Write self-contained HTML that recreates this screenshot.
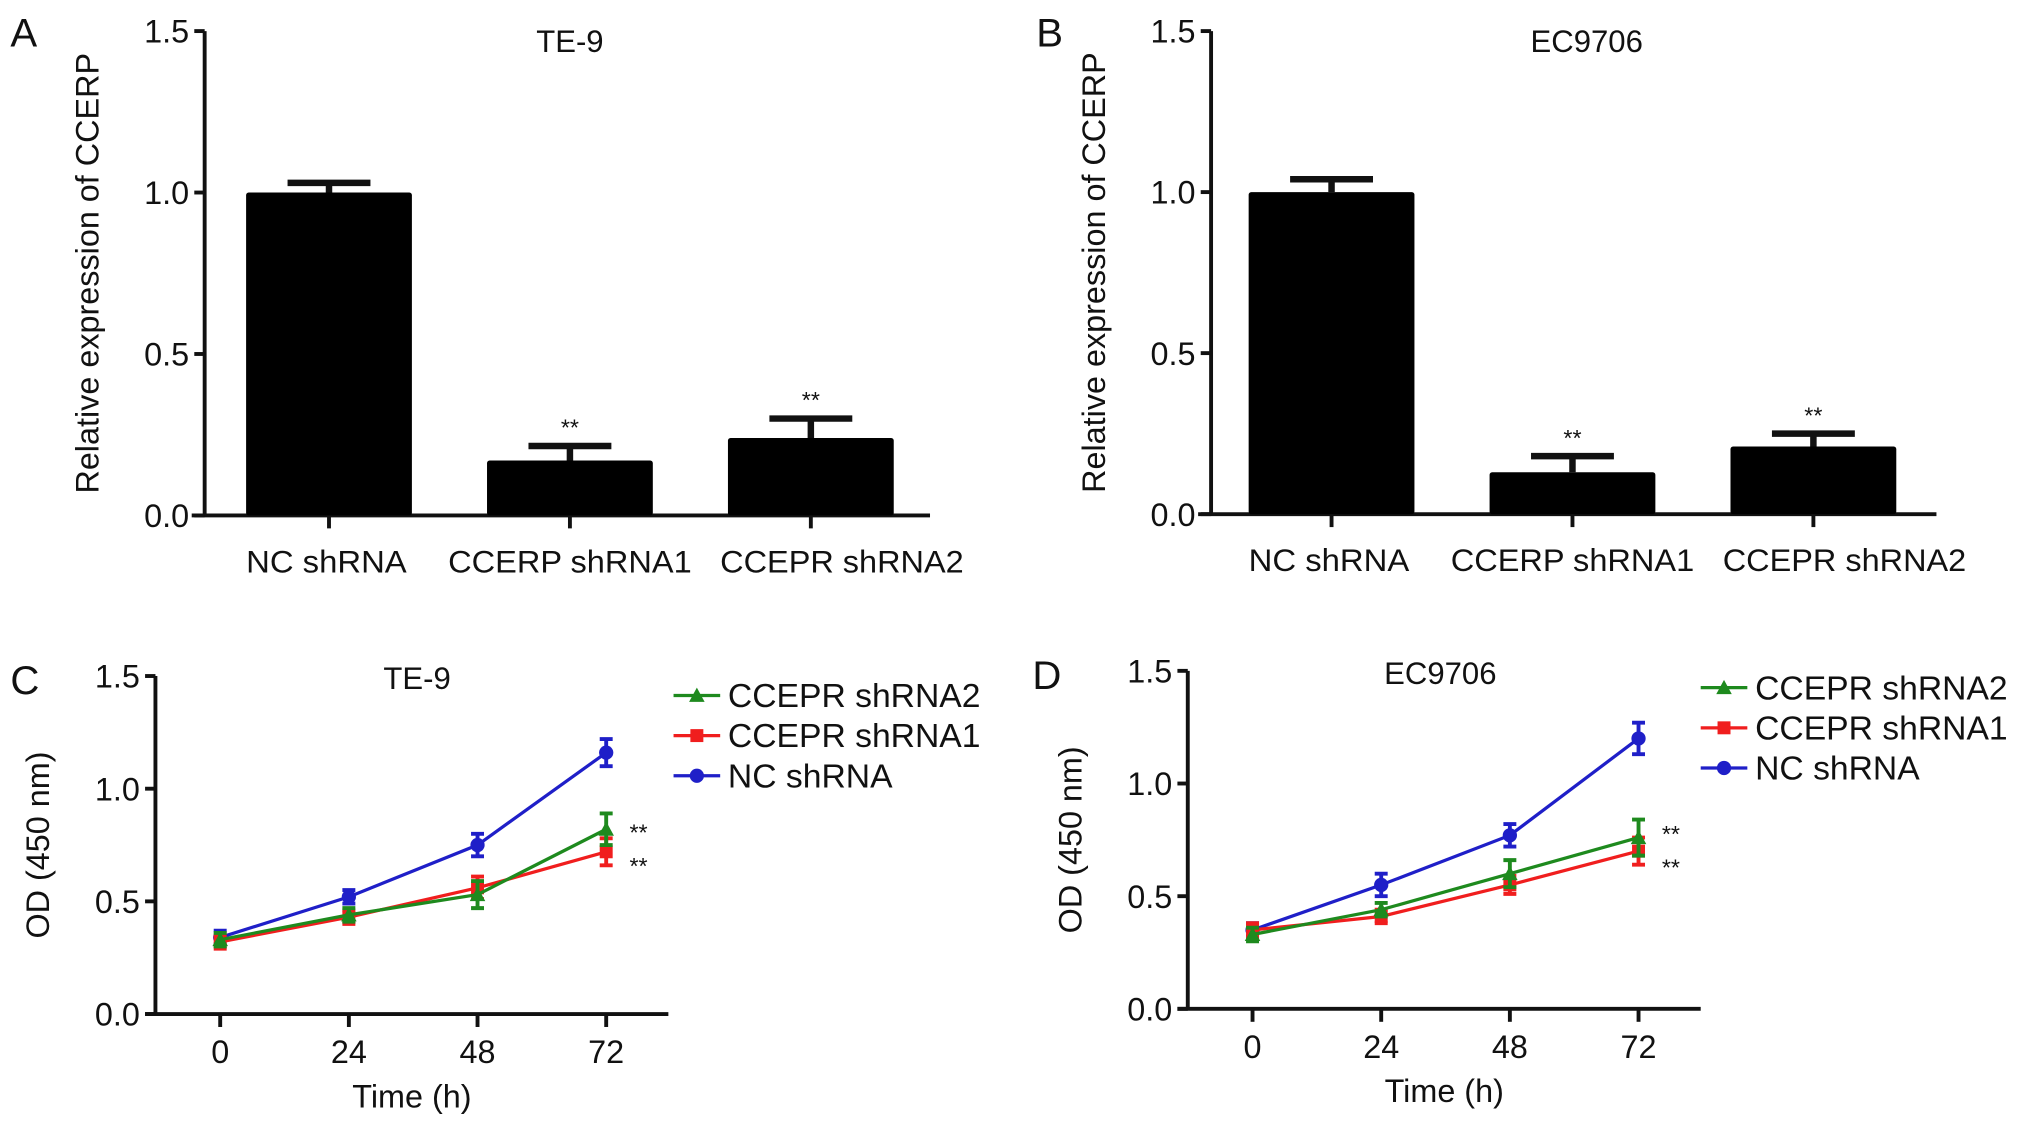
<!DOCTYPE html>
<html><head><meta charset="utf-8"><style>
html,body{margin:0;padding:0;background:#fff;}
svg{display:block;font-family:"Liberation Sans",sans-serif;}
</style></head><body>
<svg id="fig" width="2031" height="1128" viewBox="0 0 1568 871" preserveAspectRatio="none" xmlns="http://www.w3.org/2000/svg"></svg>
<script>
// Bar panel data
const barCats = ["NC shRNA", "CCERP shRNA1", "CCEPR shRNA2"];
const barA = [1.0, 0.17, 0.24];
const barAErr = [0.03, 0.045, 0.06];
const barB = [1.0, 0.13, 0.21];
const barBErr = [0.04, 0.05, 0.04];
const yTicks = [0.0, 0.5, 1.0, 1.5];
const yTickLabels = ["0.0", "0.5", "1.0", "1.5"];
// Line panel data
const times = [0, 24, 48, 72];
const timeLabels = ["0", "24", "48", "72"];
const seriesNames = ["CCEPR shRNA2", "CCEPR shRNA1", "NC shRNA"];
const cNC = [0.34, 0.52, 0.75, 1.16];
const cNCErr = [0.03, 0.03, 0.05, 0.06];
const cSh1 = [0.32, 0.43, 0.56, 0.72];
const cSh1Err = [0.03, 0.03, 0.05, 0.06];
const cSh2 = [0.33, 0.44, 0.53, 0.82];
const cSh2Err = [0.03, 0.03, 0.06, 0.07];
const dNC = [0.35, 0.55, 0.77, 1.20];
const dNCErr = [0.03, 0.05, 0.05, 0.07];
const dSh1 = [0.35, 0.41, 0.55, 0.70];
const dSh1Err = [0.03, 0.03, 0.04, 0.06];
const dSh2 = [0.33, 0.44, 0.60, 0.76];
const dSh2Err = [0.03, 0.03, 0.06, 0.08];

const svg = document.getElementById('fig');
const NS = 'http://www.w3.org/2000/svg';
function mk(tag, attrs, parent, text){
  const e = document.createElementNS(NS, tag);
  for (const k in attrs) e.setAttribute(k, attrs[k]);
  if (text !== undefined) e.textContent = text;
  (parent || svg).appendChild(e);
  return e;
}
function txt(x,y,s,size,anchor,name,parent,extra){
  const t = mk('text', Object.assign({x:x,y:y,'font-size':size,'text-anchor':anchor||'middle',fill:'#111'}, extra||{}), parent, s);
  
  
  return t;
}
const labelShift = [-2, 0, 24];

function barPanel(cfg, vals, errs){
  const g = mk('g', {});
  
  
  const y = v => cfg.y0 - (v/1.5)*(cfg.y0 - cfg.yTop);
  txt(cfg.letterX, 36, cfg.letter, 31, 'start', 'panel-label', g);
  txt(cfg.titleX, 40, cfg.title, 24, 'middle', 'chart-title', g);
  const ax = mk('path', {d:`M${cfg.ax} ${cfg.yTop} V${cfg.y0} M${cfg.ax-10} ${cfg.y0} H${cfg.xEnd}`, stroke:'#111','stroke-width':3, fill:'none'}, g);
   
  yTicks.forEach((v,i)=>{
    const tk = mk('line',{x1:cfg.ax-8,x2:cfg.ax,y1:y(v),y2:y(v),stroke:'#111','stroke-width':3},g);
     
    txt(cfg.ax-12, y(v)+9, yTickLabels[i], 25, 'end', 'y-tick-label', g);
  });
  const yl = txt(0,0,'Relative expression of CCERP',25,'middle','y-axis-title',g);
  yl.setAttribute('transform',`translate(${cfg.ax-82},${(cfg.yTop+cfg.y0)/2}) rotate(-90)`);
  vals.forEach((v,i)=>{
    const cx = cfg.x0 + i*cfg.step;
    const top = y(v), eTop = y(v+errs[i]);
    const eb = mk('path',{d:`M${cx} ${top} V${eTop} M${cx-32} ${eTop} H${cx+32}`,stroke:'#111','stroke-width':5,fill:'none'},g);
     
    const r = mk('rect',{x:cx-64,y:top,width:128,height:cfg.y0-top,fill:'#000',rx:2},g);
     
    const tk = mk('line',{x1:cx,x2:cx,y1:cfg.y0,y2:cfg.y0+10,stroke:'#111','stroke-width':3},g);
     
    txt(cx+labelShift[i], cfg.y0+44, barCats[i], 24, 'middle', 'x-tick-label', g, {textLength: i===0?124:188, lengthAdjust:'spacingAndGlyphs'});
    if (i>0) txt(cx, eTop-8, '**', 18, 'middle', 'significance-marker', g);
  });
}
barPanel({name:'panel-a',letter:'A',letterX:8,title:'TE-9',titleX:440,ax:158,yTop:24,y0:398,xEnd:718,x0:254,step:186},barA,barAErr);
barPanel({name:'panel-b',letter:'B',letterX:800,title:'EC9706',titleX:1225,ax:935,yTop:24,y0:397,xEnd:1495,x0:1028,step:186},barB,barBErr);

function linePanel(cfg, series){
  const g = mk('g', {});
  
  
  const y = v => cfg.y0 - (v/1.5)*(cfg.y0 - cfg.yTop);
  const x = t => cfg.x0 + (t/72)*(cfg.x72 - cfg.x0);
  txt(cfg.letterX, cfg.yTop+14, cfg.letter, 31, 'start', 'panel-label', g);
  txt(cfg.titleX, cfg.yTop+10, cfg.title, 24, 'middle', 'chart-title', g);
  const ax = mk('path',{d:`M${cfg.ax} ${cfg.yTop} V${cfg.y0} M${cfg.ax-8} ${cfg.y0} H${cfg.xEnd}`,stroke:'#111','stroke-width':3,fill:'none'},g);
   
  yTicks.forEach((v,i)=>{
    const tk = mk('line',{x1:cfg.ax-8,x2:cfg.ax,y1:y(v),y2:y(v),stroke:'#111','stroke-width':3},g);
     
    txt(cfg.ax-12, y(v)+9, yTickLabels[i], 25, 'end', 'y-tick-label', g);
  });
  times.forEach((t,i)=>{
    const tk = mk('line',{x1:x(t),x2:x(t),y1:cfg.y0,y2:cfg.y0+10,stroke:'#111','stroke-width':3},g);
     
    txt(x(t), cfg.y0+38, timeLabels[i], 25, 'middle', 'x-tick-label', g);
  });
  txt((cfg.ax+cfg.xEnd)/2, cfg.y0+72, 'Time (h)', 25, 'middle', 'x-axis-title', g);
  const yl = txt(0,0,'OD (450 nm)',25,'middle','y-axis-title',g);
  yl.setAttribute('transform',`translate(${cfg.ax-82},${(cfg.yTop+cfg.y0)/2}) rotate(-90)`);
  series.forEach((s,si)=>{
    const sg = mk('g',{},g);
     
    const pts = times.map((t,i)=>x(t)+','+y(s.v[i])).join(' ');
    const pl = mk('polyline',{points:pts,fill:'none',stroke:s.c,'stroke-width':2.5},sg);
     
    times.forEach((t,i)=>{
      const cx=x(t), a=y(s.v[i]+s.e[i]), b=y(s.v[i]-s.e[i]);
      const eb = mk('path',{d:`M${cx} ${a} V${b} M${cx-5} ${a} H${cx+5} M${cx-5} ${b} H${cx+5}`,stroke:s.c,'stroke-width':3,fill:'none'},sg);
       
      marker(sg, s.m, cx, y(s.v[i]), s.c);
    });
  });
  cfg.stars.forEach(v=>txt(x(72)+25, y(v)+12, '**', 18, 'middle', 'significance-marker', g));
  const lg = mk('g',{},g);
   
  [series[2],series[1],series[0]].forEach((s,i)=>{
    const ly = cfg.legY + i*31;
    const e = mk('g',{},lg);
     
    mk('line',{x1:cfg.legX,x2:cfg.legX+36,y1:ly,y2:ly,stroke:s.c,'stroke-width':2.5},e);
    marker(e, s.m, cfg.legX+18, ly, s.c);
    txt(cfg.legX+42, ly+9, seriesNames[i], 26, 'start', 'legend-label', e);
  });
}
function marker(p, m, cx, cy, c){
  let e;
  if (m==='tri') e = mk('polygon',{points:`${cx},${cy-6} ${cx-6},${cy+5} ${cx+6},${cy+5}`,fill:c},p);
  else if (m==='sq') e = mk('rect',{x:cx-5,y:cy-5,width:10,height:10,fill:c},p);
  else e = mk('circle',{cx:cx,cy:cy,r:5.5,fill:c},p);
   
}
const BLUE='#1f1fc8', RED='#f01e1e', GREEN='#1e8a1e';
linePanel({name:'panel-c',letter:'C',letterX:8,title:'TE-9',titleX:322,ax:120,yTop:522,y0:783,xEnd:516,x0:170,x72:468,legX:520,legY:537,stars:[0.84,0.69]},
  [{key:'nc-shrna',v:cNC,e:cNCErr,c:BLUE,m:'dot'},{key:'shrna1',v:cSh1,e:cSh1Err,c:RED,m:'sq'},{key:'shrna2',v:cSh2,e:cSh2Err,c:GREEN,m:'tri'}]);
linePanel({name:'panel-d',letter:'D',letterX:797,title:'EC9706',titleX:1112,ax:917,yTop:518,y0:779,xEnd:1313,x0:967,x72:1265,legX:1313,legY:531,stars:[0.81,0.66]},
  [{key:'nc-shrna',v:dNC,e:dNCErr,c:BLUE,m:'dot'},{key:'shrna1',v:dSh1,e:dSh1Err,c:RED,m:'sq'},{key:'shrna2',v:dSh2,e:dSh2Err,c:GREEN,m:'tri'}]);
</script>
</body></html>
